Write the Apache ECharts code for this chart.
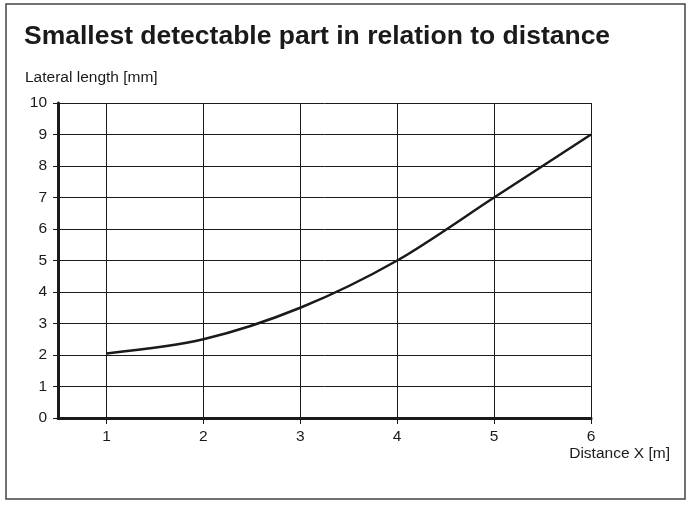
<!DOCTYPE html>
<html>
<head>
<meta charset="utf-8">
<script src="https://cdn.jsdelivr.net/npm/echarts@6/dist/echarts.min.js"></script>
<style>
  html, body { margin: 0; padding: 0; background: #fff; }
  #chart { width: 689px; height: 505px; }
</style>
</head>
<body>
<div id="chart"></div>
<script>
// distance in metres vs smallest detectable lateral length in mm
const distance = [1, 2, 3, 4, 5, 6];
const lateralLength = [2.05, 2.5, 3.5, 5, 7, 9];
const xTicks = [1, 2, 3, 4, 5, 6];

const titleText = 'Smallest detectable part in relation to distance';
const yName = 'Lateral length [mm]';
const xName = 'Distance X [m]';

const ink = '#1a1a1a';
const font = 'Liberation Sans, Arial, sans-serif';

const chart = echarts.init(document.getElementById('chart'));

chart.setOption({
    animation: false,
    textStyle: { fontFamily: font },
    title: {
        text: titleText,
        left: 19,
        top: 18,
        textStyle: { fontSize: 26.5, fontWeight: 'bold', color: ink, fontFamily: font },
    },
    grid: { left: 58, right: 98, top: 103, bottom: 87 },
    xAxis: {
        type: 'value',
        min: 0.5,
        max: 6,
        axisLine: { show: true, onZero: false, lineStyle: { color: ink, width: 3 } },
        axisTick: {
            show: true,
            customValues: xTicks,
            length: 6,
            lineStyle: { color: ink, width: 1 },
        },
        axisLabel: {
            customValues: xTicks,
            color: ink,
            fontSize: 15.5,
            margin: 11,
        },
        splitLine: { show: true, lineStyle: { color: ink, width: 1 } },
    },
    yAxis: {
        type: 'value',
        min: 0,
        max: 10,
        interval: 1,
        axisLine: { show: true, lineStyle: { color: ink, width: 3 } },
        axisTick: { show: true, length: 5, lineStyle: { color: ink, width: 1 } },
        axisLabel: { color: ink, fontSize: 15.5, margin: 11 },
        splitLine: { show: true, lineStyle: { color: ink, width: 1 } },
    },
    graphic: [
        {
            type: 'rect',
            shape: { x: 6, y: 4, width: 679, height: 495 },
            style: { fill: 'none', stroke: '#444', lineWidth: 1.5 },
            silent: true,
        },
        {
            type: 'text',
            left: 25,
            top: 70,
            style: { text: yName, fill: ink, fontSize: 15.5, fontFamily: font },
        },
        {
            type: 'text',
            right: 19,
            top: 446,
            style: { text: xName, fill: ink, fontSize: 15.5, fontFamily: font },
        },
    ],
    series: [
        {
            type: 'line',
            data: distance.map((d, i) => [d, lateralLength[i]]),
            smooth: 0.3,
            showSymbol: false,
            lineStyle: { color: ink, width: 2.5 },
        },
    ],
});
</script>
</body>
</html>
